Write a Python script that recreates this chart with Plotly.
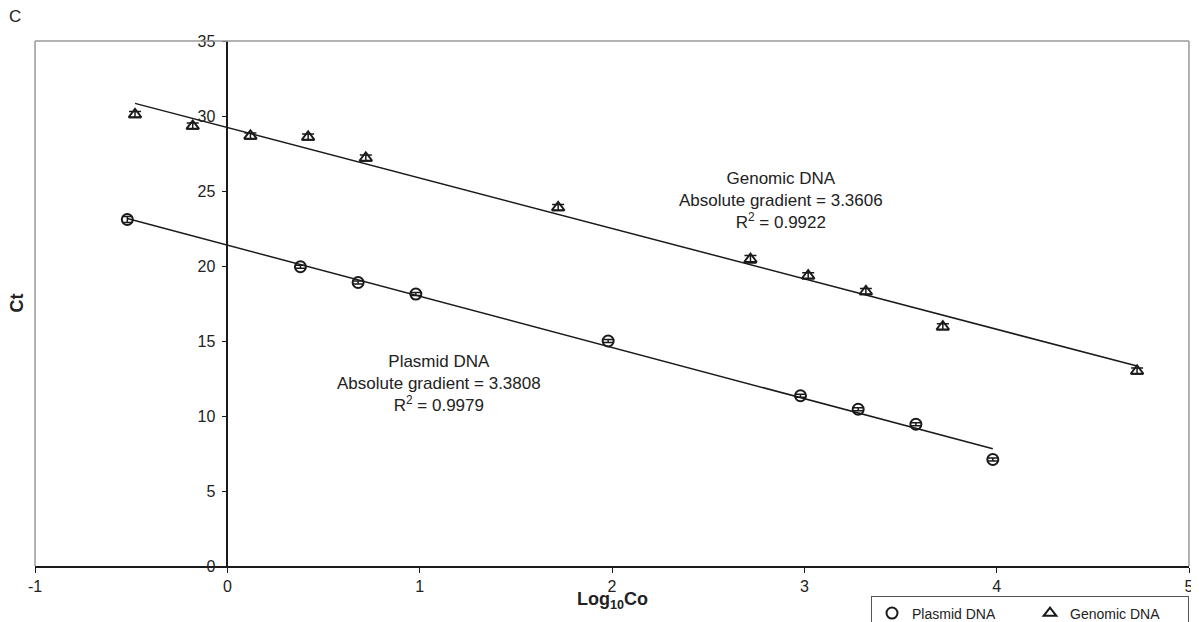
import numpy as np
import plotly.graph_objects as go

# ---- data ----
genomic_x = [-0.48, -0.18, 0.12, 0.42, 0.72, 1.72, 2.72, 3.02, 3.32, 3.72, 4.73]
genomic_ct = [30.1, 29.33, 28.67, 28.6, 27.2, 23.9, 20.45, 19.35, 18.3, 15.95, 13.0]
genomic_err = [0.2, 0.2, 0.2, 0.2, 0.2, 0.2, 0.25, 0.2, 0.2, 0.2, 0.2]

plasmid_x = [-0.52, 0.38, 0.68, 0.98, 1.98, 2.98, 3.28, 3.58, 3.98]
plasmid_ct = [23.1, 19.95, 18.9, 18.13, 15.0, 11.35, 10.45, 9.45, 7.1]
plasmid_err = [0.2, 0.1, 0.1, 0.1, 0.1, 0.1, 0.1, 0.1, 0.1]

x_ticks = [-1, 0, 1, 2, 3, 4, 5]
x_tick_text = ["-1", "0", "1", "2", "3", "4", "5"]
y_ticks = [0, 5, 10, 15, 20, 25, 30, 35]

genomic_label = "Genomic DNA<br>Absolute gradient = 3.3606<br>R<sup>2</sup> = 0.9922"
plasmid_label = "Plasmid DNA<br>Absolute gradient = 3.3808<br>R<sup>2</sup> = 0.9979"

FONT = "Liberation Sans, Arial, Helvetica, sans-serif"
TXT = "#222222"
INK = "#1a1a1a"

fig = go.Figure()

# linear trendlines (least squares fit of the data)
for xs, ys in [(genomic_x, genomic_ct), (plasmid_x, plasmid_ct)]:
    m, b = np.polyfit(xs, ys, 1)
    lx = np.array([min(xs), max(xs)])
    fig.add_trace(go.Scatter(x=lx, y=m * lx + b, mode="lines",
                             line=dict(color=INK, width=1.5),
                             showlegend=False, hoverinfo="skip"))

fig.add_trace(go.Scatter(
    x=plasmid_x, y=plasmid_ct, mode="markers", name="Plasmid DNA",
    marker=dict(symbol="circle-open", size=11, color=INK, line=dict(width=2)),
    error_y=dict(type="data", array=plasmid_err, color=INK, thickness=1.5, width=5),
))
fig.add_trace(go.Scatter(
    x=genomic_x, y=genomic_ct, mode="markers", name="Genomic DNA",
    marker=dict(symbol="triangle-up-open", size=11, color=INK, line=dict(width=2)),
    error_y=dict(type="data", array=genomic_err, color=INK, thickness=1.5, width=6),
))

fig.update_layout(
    width=1191, height=614,
    margin=dict(l=27, r=10, t=33, b=56, autoexpand=False),
    paper_bgcolor="white", plot_bgcolor="white",
    font=dict(family=FONT, size=15, color=TXT),
    showlegend=True,
    legend=dict(orientation="h", x=1.0, xanchor="right", y=-0.058, yanchor="top",
                bordercolor="#555555", borderwidth=1, bgcolor="white",
                font=dict(family=FONT, size=14, color=TXT),
                entrywidth=113, entrywidthmode="pixels", itemwidth=30),
    xaxis=dict(range=[-1, 5], tickvals=x_ticks, ticktext=x_tick_text, ticks="outside",
               ticklen=5, tickcolor=INK, showline=True, linecolor=INK, linewidth=1.5,
               showgrid=False, zeroline=False, tickfont=dict(size=16, color=TXT)),
    yaxis=dict(range=[0, 35], tickvals=y_ticks, ticks="outside", ticklen=5,
               tickcolor=INK, showline=True, linecolor=INK, linewidth=1.5,
               showgrid=False, zeroline=False, anchor="free", position=1 / 6,
               ticklabelstandoff=3, tickfont=dict(size=16, color=TXT)),
    annotations=[
        dict(text=genomic_label, x=2.88, y=24.35, xref="x", yref="y", showarrow=False,
             font=dict(size=17, color=TXT), align="center"),
        dict(text=plasmid_label, x=1.10, y=12.2, xref="x", yref="y", showarrow=False,
             font=dict(size=17, color=TXT), align="center"),
        dict(text="<b>Log<sub>10</sub>Co</b>", x=2, y=-0.066, xref="x", yref="paper",
             showarrow=False, font=dict(size=18, color=TXT), yanchor="middle"),
        dict(text="<b>Ct</b>", x=-0.006, y=0.5, xref="paper", yref="paper", textangle=-90,
             showarrow=False, font=dict(size=18, color=TXT), xanchor="right"),
        dict(text="C", x=-0.024, y=1.047, xref="paper", yref="paper", showarrow=False,
             font=dict(size=17, color=TXT), xanchor="left", yanchor="middle"),
    ],
    shapes=[
        dict(type="line", xref="paper", yref="paper", x0=0, x1=0, y0=0, y1=1,
             line=dict(color="#9a9a9a", width=1.5)),
        dict(type="line", xref="paper", yref="paper", x0=0, x1=1, y0=1, y1=1,
             line=dict(color="#9a9a9a", width=1.5)),
        dict(type="line", xref="paper", yref="paper", x0=1, x1=1, y0=0, y1=1,
             line=dict(color="#9a9a9a", width=1.5)),
    ],
)

fig.write_html("out.html")
